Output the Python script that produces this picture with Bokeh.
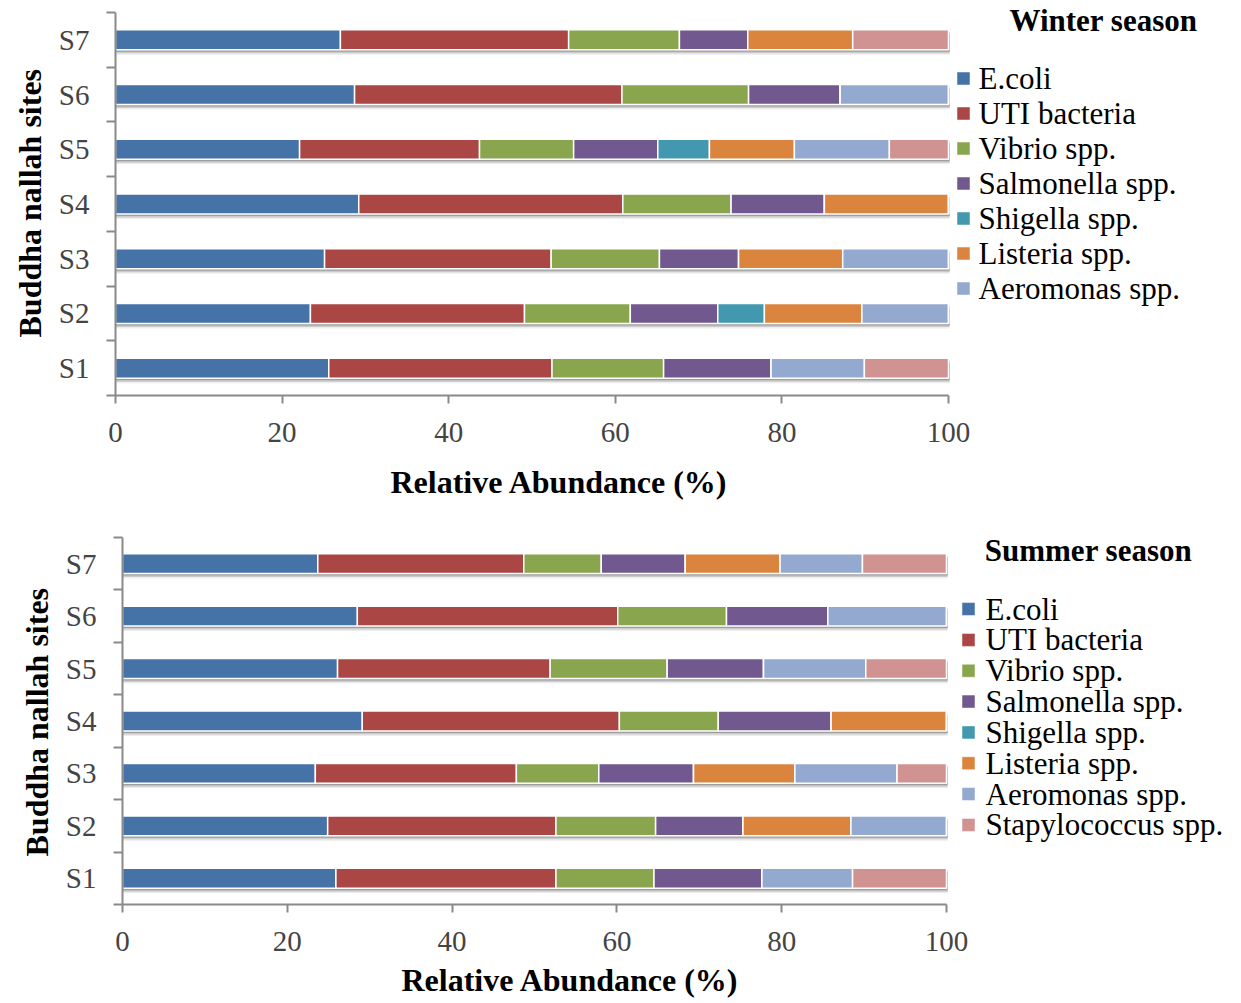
from bokeh.plotting import figure
from bokeh.layouts import column
from bokeh.models import ColumnDataSource, FixedTicker, Title
from bokeh.core.properties import value
from bokeh.embed import file_html
from bokeh.resources import INLINE

sites = ["S1", "S2", "S3", "S4", "S5", "S6", "S7"]
species = ["E.coli", "UTI bacteria", "Vibrio spp.", "Salmonella spp.",
           "Shigella spp.", "Listeria spp.", "Aeromonas spp.", "Stapylococcus spp."]
colors = ["#4572A7", "#AA4643", "#89A54E", "#71588F",
          "#4198AF", "#DB843D", "#93A9CF", "#D19392"]
x_ticks = [0, 20, 40, 60, 80, 100]

# Winter season, relative abundance (%) per site S1..S7
winter_ecoli = [25.6, 23.4, 25.1, 29.2, 22.1, 28.7, 27.0]
winter_uti = [26.8, 25.7, 27.2, 31.7, 21.6, 32.1, 27.4]
winter_vibrio = [13.4, 12.7, 13.0, 13.0, 11.3, 15.2, 13.3]
winter_salmonella = [12.9, 10.5, 9.5, 11.2, 10.1, 11.0, 8.2]
winter_shigella = [0.0, 5.6, 0.0, 0.0, 6.2, 0.0, 0.0]
winter_listeria = [0.0, 11.7, 12.5, 14.9, 10.2, 0.0, 12.6]
winter_aeromonas = [11.2, 10.4, 12.7, 0.0, 11.4, 13.0, 0.0]
winter_staph = [10.1, 0.0, 0.0, 0.0, 7.1, 0.0, 11.5]

# Summer season, relative abundance (%) per site S1..S7
summer_ecoli = [25.9, 24.9, 23.4, 29.1, 26.1, 28.5, 23.7]
summer_uti = [26.7, 27.7, 24.4, 31.2, 25.8, 31.6, 25.0]
summer_vibrio = [11.9, 12.1, 10.0, 12.0, 14.2, 13.2, 9.4]
summer_salmonella = [13.1, 10.6, 11.5, 13.7, 11.7, 12.3, 10.2]
summer_shigella = [0.0, 0.0, 0.0, 0.0, 0.0, 0.0, 0.0]
summer_listeria = [0.0, 13.1, 12.3, 14.0, 0.0, 0.0, 11.5]
summer_aeromonas = [11.0, 11.6, 12.4, 0.0, 12.4, 14.4, 10.0]
summer_staph = [11.4, 0.0, 6.0, 0.0, 9.8, 0.0, 10.2]

winter = [winter_ecoli, winter_uti, winter_vibrio, winter_salmonella,
          winter_shigella, winter_listeria, winter_aeromonas, winter_staph]
summer = [summer_ecoli, summer_uti, summer_vibrio, summer_salmonella,
          summer_shigella, summer_listeria, summer_aeromonas, summer_staph]

FONT = "Liberation Serif"
AXIS_GREY = "#8a8a8a"
WIDTH = 1241


def season_panel(series, title, legend_count, height, geom, legend_geom, styles):
    # geom: pixel positions inside this figure of x=0, x=100, y=0 (bottom), top row edge
    x0_px, x100_px, ybot_px, ytop_px = geom
    n = len(sites)
    px_per_x = (x100_px - x0_px) / 100.0
    px_per_y = (ybot_px - ytop_px) / n

    def dx(px):
        return (px - x0_px) / px_per_x

    def dy(py):
        return (ybot_px - py) / px_per_y

    p = figure(width=WIDTH, height=height,
               x_range=(0, dx(WIDTH)), y_range=(0, dy(0)),
               output_backend="svg", toolbar_location=None,
               min_border_left=x0_px, min_border_right=0,
               min_border_top=0, min_border_bottom=height - ybot_px)
    # each panel keeps its own frame position
    if "frame_align" in p.properties():
        p.frame_align = False
    p.outline_line_color = None
    p.xgrid.grid_line_color = None
    p.ygrid.grid_line_color = None
    p.background_fill_color = "white"
    p.border_fill_color = "white"

    ys = [i + 0.5 for i in range(n)]
    data = {"y": ys}
    keys = []
    for k, vals in enumerate(series):
        key = "s%d" % k
        data[key] = vals
        keys.append(key)
    src = ColumnDataSource(data)

    bar_h = 20 / px_per_y
    totals = [sum(col[i] for col in series) for i in range(n)]

    # soft drop shadow beneath each stacked bar
    for off, alpha in ((2.0, 0.22), (3.5, 0.14), (5.0, 0.07)):
        p.hbar(y=[y - off / px_per_y for y in ys], left=0,
               right=[t + 1.2 / px_per_x for t in totals],
               height=bar_h, fill_color="#000000", fill_alpha=alpha, line_color=None)

    p.hbar_stack(keys, y="y", height=bar_h, color=colors,
                 line_color="white", line_width=1.5, source=src)

    # key: coloured squares with species names, and the season heading
    sq_x, txt_x, first_y, step, title_x, title_y = legend_geom
    ky = [dy(first_y + step * k) for k in range(legend_count)]
    p.scatter(x=[dx(sq_x)] * legend_count, y=ky, marker="square", size=13,
              fill_color=colors[:legend_count], line_color="white", line_width=0.5)
    p.text(x=[dx(txt_x)] * legend_count, y=ky, text=species[:legend_count],
           text_font=value(FONT), text_font_size=value("31px"),
           text_baseline="middle", text_align="left", text_color="black")
    p.text(x=[dx(title_x)], y=[dy(title_y)], text=[title],
           text_font=value(FONT), text_font_size=value("31px"), text_font_style="bold",
           text_baseline="middle", text_align="center", text_color="black")

    xa = p.xaxis[0]
    xa.bounds = (0, 100)
    xa.ticker = FixedTicker(ticks=x_ticks, minor_ticks=[])
    xa.major_label_text_font = FONT
    xa.major_label_text_font_size = "29px"
    xa.major_label_standoff = styles["xtick_standoff"]
    xa.major_tick_in = 0
    xa.major_tick_out = 8
    xa.axis_line_color = AXIS_GREY
    xa.axis_line_width = 2
    xa.major_tick_line_color = AXIS_GREY
    xa.major_tick_line_width = 2

    ya = p.yaxis[0]
    ya.bounds = (0, n)
    ya.ticker = FixedTicker(ticks=ys, minor_ticks=list(range(n + 1)))
    ya.major_label_overrides = {y: s for y, s in zip(ys, sites)}
    ya.major_label_text_font = FONT
    ya.major_label_text_font_size = "29px"
    ya.major_label_standoff = 17
    ya.major_label_orientation = "horizontal"
    ya.major_tick_in = 0
    ya.major_tick_out = 0
    ya.minor_tick_in = 0
    ya.minor_tick_out = 9
    ya.axis_line_color = AXIS_GREY
    ya.axis_line_width = 2
    ya.minor_tick_line_color = AXIS_GREY
    ya.minor_tick_line_width = 2

    # axis titles, aligned on the bar area rather than the whole frame
    p.add_layout(Title(text="Relative Abundance (%)", align="left",
                       offset=styles["xlabel_offset"], standoff=styles["xlabel_standoff"],
                       text_font=FONT, text_font_size="32px", text_font_style="bold",
                       text_color="black"), "below")
    p.add_layout(Title(text="Buddha nallah sites", align="left",
                       offset=styles["ylabel_offset"], standoff=styles["ylabel_standoff"],
                       text_font=FONT, text_font_size="32px", text_font_style="bold",
                       text_color="black"), "left")
    return p


top = season_panel(winter, "Winter season", 7, 525, (115, 948, 395, 12),
                   (963, 978, 78, 35, 1103, 20),
                   {"xtick_standoff": 19, "xlabel_offset": 275, "xlabel_standoff": 34,
                    "ylabel_offset": 58, "ylabel_standoff": 16})
bottom = season_panel(summer, "Summer season", 8, 478, (122, 946, 381, 12),
                      (968, 985, 84, 31, 1088, 25),
                      {"xtick_standoff": 19, "xlabel_offset": 279, "xlabel_standoff": 12,
                       "ylabel_offset": 48, "ylabel_standoff": 16})

layout = column(top, bottom, spacing=0)
open("out.html", "w").write(file_html(layout, INLINE))
